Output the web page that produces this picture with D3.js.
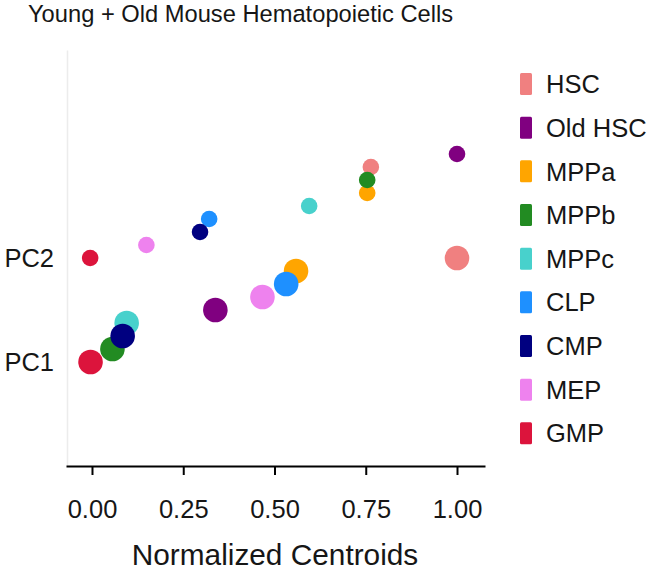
<!DOCTYPE html>
<html>
<head>
<meta charset="utf-8">
<script src="https://cdn.jsdelivr.net/npm/d3@7"></script>
<style>
  html, body { margin: 0; padding: 0; background: #fff; }
  svg { display: block; font-family: "Liberation Sans", Arial, Helvetica, sans-serif; }
</style>
</head>
<body>
<svg id="chart" width="652" height="571"></svg>
<script>
// ---- data ----
const cellTypes = ["HSC", "Old HSC", "MPPa", "MPPb", "MPPc", "CLP", "CMP", "MEP", "GMP"];
const cellColors = ["#f08080", "#800080", "#ffa500", "#228b22", "#48d1cc", "#1e90ff", "#000080", "#ee82ee", "#dc143c"];
// PC1 row (large points): normalized centroid (x) and vertical position (y)
const pc1X = [1.0, 0.338, 0.559, 0.056, 0.095, 0.532, 0.084, 0.467, -0.004];
const pc1Y = [2.0, 1.5, 1.875, 1.125, 1.375, 1.75, 1.25, 1.625, 1.0];
// PC2 row (small points)
const pc2X = [0.764, 1.0, 0.754, 0.754, 0.595, 0.321, 0.296, 0.149, -0.005];
const pc2Y = [2.875, 3.0, 2.625, 2.75, 2.5, 2.375, 2.25, 2.125, 2.0];
const xTicks = [0, 0.25, 0.5, 0.75, 1.0];
const xTickLabels = ["0.00", "0.25", "0.50", "0.75", "1.00"];
const yTicks = [1, 2];
const yTickLabels = ["PC1", "PC2"];

const svg = d3.select("#chart");

const x = d3.scaleLinear().domain([-0.0712, 1.0767]).range([66, 485]);
const y = d3.scaleLinear().domain([0, 4]).range([466, 50]);

// title
svg.append("text")
  .attr("x", 28).attr("y", 22)
  .attr("font-size", 23.7)
  .attr("fill", "#161616")
  .text("Young + Old Mouse Hematopoietic Cells");

// y axis (light grey line, PC labels)
const yAxis = svg.append("g")
  .attr("transform", "translate(67,0)")
  .call(d3.axisLeft(y).tickValues(yTicks).tickFormat((d, i) => yTickLabels[i]).tickSize(0).tickPadding(13).tickSizeOuter(0));
yAxis.select(".domain").attr("stroke", "#ececec").attr("stroke-width", 1.5);
yAxis.selectAll("text").attr("font-size", 25.5).attr("fill", "#161616").attr("font-family", null);

// x axis
const xAxis = svg.append("g")
  .attr("transform", "translate(0,466)")
  .call(d3.axisBottom(x).tickValues(xTicks).tickFormat((d, i) => xTickLabels[i]).tickSize(9).tickPadding(25).tickSizeOuter(0));
xAxis.select(".domain").attr("stroke", "#000").attr("stroke-width", 2);
xAxis.selectAll(".tick line").attr("stroke", "#000").attr("stroke-width", 2);
xAxis.selectAll("text").attr("font-size", 25.5).attr("fill", "#161616").attr("font-family", null);

// x axis title
svg.append("text")
  .attr("x", 275).attr("y", 565)
  .attr("text-anchor", "middle")
  .attr("font-size", 29.8)
  .attr("fill", "#161616")
  .text("Normalized Centroids");

// points
const pc1Data = cellTypes.map((c, i) => ({ c, x: pc1X[i], y: pc1Y[i], color: cellColors[i] }));
const pc2Data = cellTypes.map((c, i) => ({ c, x: pc2X[i], y: pc2Y[i], color: cellColors[i] }));

svg.append("g").selectAll("circle").data(pc2Data).join("circle")
  .attr("cx", d => x(d.x)).attr("cy", d => y(d.y)).attr("r", 8.3)
  .attr("fill", d => d.color);

svg.append("g").selectAll("circle").data(pc1Data).join("circle")
  .attr("cx", d => x(d.x)).attr("cy", d => y(d.y)).attr("r", 12.3)
  .attr("fill", d => d.color);

// legend
const legend = svg.append("g");
const ly = d3.scalePoint().domain(cellTypes).range([84, 433.3]);
legend.selectAll("rect").data(cellTypes).join("rect")
  .attr("x", 520).attr("y", d => ly(d) - 11).attr("width", 12).attr("height", 22)
  .attr("rx", 1.5)
  .attr("fill", (d, i) => cellColors[i]);
legend.selectAll("text").data(cellTypes).join("text")
  .attr("x", 546).attr("y", d => ly(d)).attr("dy", "0.36em")
  .attr("font-size", 25.5).attr("fill", "#161616")
  .text(d => d);
</script>
</body>
</html>
